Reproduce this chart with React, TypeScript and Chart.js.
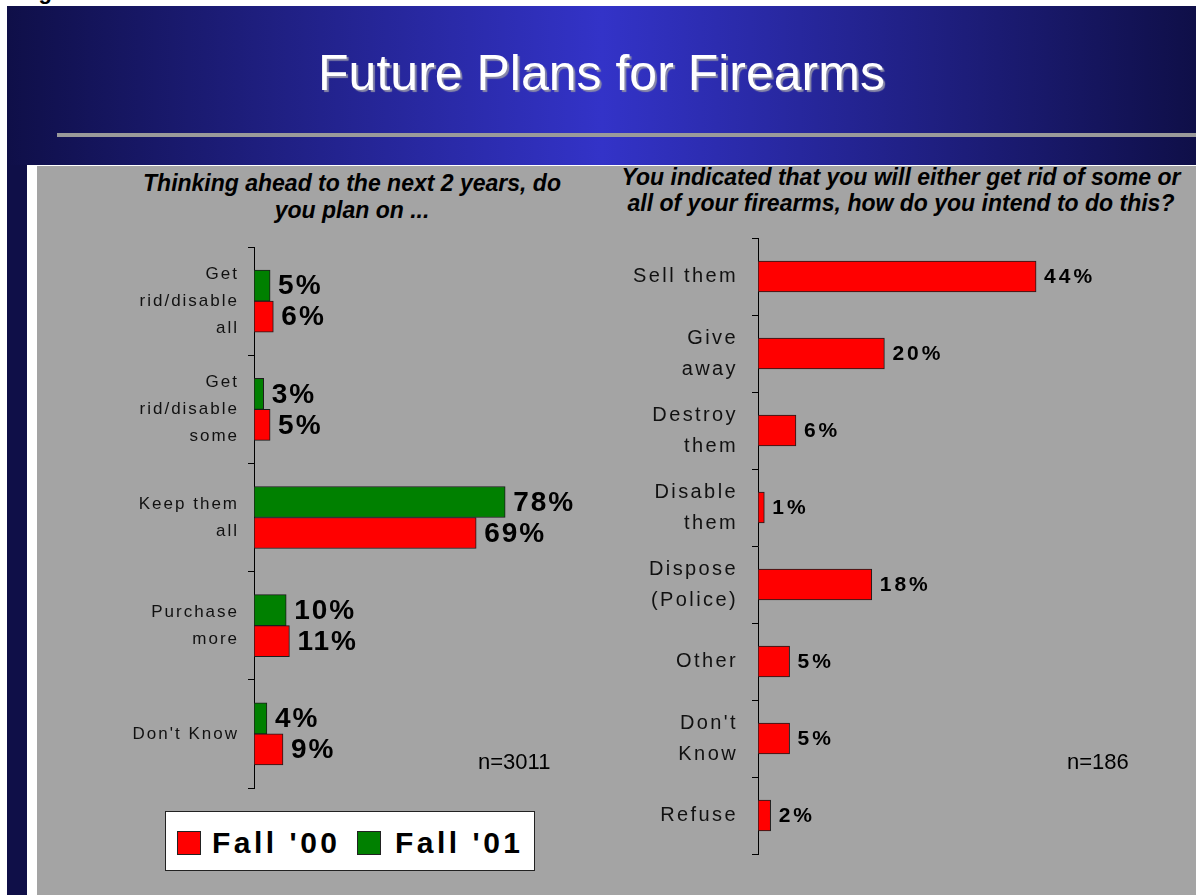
import React, { useEffect, useRef } from 'react';
import { Chart, registerables } from 'chart.js';

Chart.register(...registerables);

// ---------- DATA ----------
const leftCategories: string[][] = [
  ['Get', 'rid/disable', 'all'],
  ['Get', 'rid/disable', 'some'],
  ['Keep them', 'all'],
  ['Purchase', 'more'],
  ["Don't Know"],
];
const fall01Values = [5, 3, 78, 10, 4];
const fall00Values = [6, 5, 69, 11, 9];

const rightCategories: string[][] = [
  ['Sell them'],
  ['Give', 'away'],
  ['Destroy', 'them'],
  ['Disable', 'them'],
  ['Dispose', '(Police)'],
  ['Other'],
  ["Don't", 'Know'],
  ['Refuse'],
];
const rightValues = [44, 20, 6, 1, 18, 5, 5, 2];

const leftAxisMax = 100;
const rightAxisMax = 50;

const FONT = '"Liberation Sans", Arial, Helvetica, sans-serif';
const RED = '#ff0000';
const GREEN = '#008000';
const BAR_BORDER = '#1c1c1c';

// ---------- PLUGINS ----------
const tickSpacingPlugin = (spacing: string) => ({
  id: 'tickSpacing',
  beforeDraw(chart: any) {
    (chart.ctx as any).letterSpacing = spacing;
  },
});

const valueLabelPlugin = (font: string, spacing: string, gap: number, dy: number) => ({
  id: 'valueLabels',
  afterDatasetsDraw(chart: any) {
    const ctx = chart.ctx;
    ctx.save();
    (ctx as any).letterSpacing = spacing;
    ctx.font = font;
    ctx.fillStyle = '#000';
    ctx.textAlign = 'left';
    ctx.textBaseline = 'middle';
    chart.data.datasets.forEach((ds: any, di: number) => {
      const meta = chart.getDatasetMeta(di);
      meta.data.forEach((el: any, i: number) => {
        ctx.fillText(`${ds.data[i]}%`, el.x + gap, el.y + dy);
      });
    });
    ctx.restore();
  },
});

// ---------- CHART CANVAS ----------
function ChartCanvas({ config, left, top, width, height }: any) {
  const ref = useRef<HTMLCanvasElement>(null);
  useEffect(() => {
    if (!ref.current) return;
    const chart = new Chart(ref.current, config);
    return () => chart.destroy();
  }, []);
  return (
    <canvas
      ref={ref}
      width={width}
      height={height}
      style={{ position: 'absolute', left, top, width, height }}
    />
  );
}

const barCommon = {
  borderColor: BAR_BORDER,
  borderWidth: 1,
  borderSkipped: false,
  barThickness: 31,
};

const leftConfig: any = {
  type: 'bar',
  data: {
    labels: leftCategories,
    datasets: [
      { label: "Fall '01", data: fall01Values, backgroundColor: GREEN, ...barCommon },
      { label: "Fall '00", data: fall00Values, backgroundColor: RED, ...barCommon },
    ],
  },
  options: {
    indexAxis: 'y',
    responsive: false,
    animation: false,
    layout: { padding: { left: 0, right: 24, top: 81, bottom: 107 } },
    plugins: { legend: { display: false }, tooltip: { enabled: false } },
    scales: {
      x: { display: false, min: 0, max: leftAxisMax },
      y: {
        afterFit: (s: any) => {
          s.width = 217;
        },
        grid: { display: true, drawOnChartArea: false, drawTicks: true, tickLength: 6, color: '#000', offset: true },
        border: { display: true, color: '#000', width: 1 },
        ticks: {
          color: '#111',
          font: { family: FONT, size: 17, lineHeight: 1.6 },
          padding: 9,
          autoSkip: false,
        },
      },
    },
  },
  plugins: [tickSpacingPlugin('2px'), valueLabelPlugin(`bold 28px ${FONT}`, '2px', 8, 1)],
};

const rightConfig: any = {
  type: 'bar',
  data: {
    labels: rightCategories,
    datasets: [{ label: 'Method', data: rightValues, backgroundColor: RED, ...barCommon }],
  },
  options: {
    indexAxis: 'y',
    responsive: false,
    animation: false,
    layout: { padding: { left: 0, right: 122, top: 72, bottom: 41 } },
    plugins: { legend: { display: false }, tooltip: { enabled: false } },
    scales: {
      x: { display: false, min: 0, max: rightAxisMax },
      y: {
        afterFit: (s: any) => {
          s.width = 158;
        },
        grid: { display: true, drawOnChartArea: false, drawTicks: true, tickLength: 6, color: '#000', offset: true },
        border: { display: true, color: '#000', width: 1 },
        ticks: {
          color: '#111',
          font: { family: FONT, size: 20, lineHeight: 1.55 },
          padding: 14,
          autoSkip: false,
        },
      },
    },
  },
  plugins: [tickSpacingPlugin('2.4px'), valueLabelPlugin(`bold 21px ${FONT}`, '3px', 8, 1)],
};

// ---------- APP ----------
export default function App() {
  const abs = (o: any) => ({ position: 'absolute' as const, ...o });
  return (
    <div
      style={{
        position: 'absolute',
        left: 0,
        top: 0,
        width: 1196,
        height: 895,
        overflow: 'hidden',
        background: '#ffffff',
        fontFamily: FONT,
      }}
    >
      {/* cut-off figure caption */}
      <div style={abs({ left: 19, top: -19, fontSize: 22, fontWeight: 'bold', lineHeight: '22px', color: '#000' })}>
        Figure 3
      </div>
      {/* header */}
      <div
        style={abs({
          left: 7,
          top: 6,
          width: 1189,
          height: 159,
          background: 'linear-gradient(to right, #0f0f48 0%, #3333c8 50%, #0f0f48 100%)',
        })}
      />
      <div
        style={abs({
          left: 7,
          top: 48,
          width: 1189,
          textAlign: 'center',
          color: '#ffffff',
          fontSize: 50,
          lineHeight: '50px',
          textShadow: '2px 2px 1px #8a8aa8',
        })}
      >
        Future Plans for Firearms
      </div>
      <div style={abs({ left: 57, top: 133, width: 1139, height: 4, background: '#9a9a9a' })} />
      {/* left navy strip */}
      <div style={abs({ left: 7, top: 165, width: 20, height: 730, background: '#0f0f48' })} />
      {/* panel */}
      <div style={abs({ left: 27, top: 165, width: 1169, height: 730, background: '#ffffff' })} />
      <div style={abs({ left: 37, top: 166, width: 1159, height: 729, background: '#a4a4a4' })} />

      {/* titles */}
      <div
        style={abs({
          left: 102,
          top: 170,
          width: 500,
          textAlign: 'center',
          fontSize: 23,
          lineHeight: '27px',
          fontWeight: 'bold',
          fontStyle: 'italic',
          color: '#000',
        })}
      >
        Thinking ahead to the next 2 years, do
        <br />
        you plan on ...
      </div>
      <div
        style={abs({
          left: 600,
          top: 164,
          width: 602,
          textAlign: 'center',
          fontSize: 23,
          lineHeight: '26px',
          fontWeight: 'bold',
          fontStyle: 'italic',
          color: '#000',
        })}
      >
        You indicated that you will either get rid of some or
        <br />
        all of your firearms, how do you intend to do this?
      </div>

      <ChartCanvas config={leftConfig} left={37} top={166} width={563} height={729} />
      <ChartCanvas config={rightConfig} left={600} top={166} width={596} height={729} />

      {/* sample sizes */}
      <div style={abs({ left: 478, top: 751, fontSize: 22, lineHeight: '22px', color: '#000' })}>n=3011</div>
      <div style={abs({ left: 1067, top: 751, fontSize: 22, lineHeight: '22px', color: '#000' })}>n=186</div>

      {/* legend */}
      <div
        style={abs({
          left: 165,
          top: 811,
          width: 370,
          height: 60,
          boxSizing: 'border-box',
          background: '#ffffff',
          border: '1px solid #222',
        })}
      >
        <div style={abs({ left: 11, top: 19, width: 24, height: 24, boxSizing: 'border-box', background: RED, border: '1px solid #222' })} />
        <div
          style={abs({ left: 46, top: 16, fontSize: 30, lineHeight: '30px', fontWeight: 'bold', letterSpacing: '3.5px', color: '#000', whiteSpace: 'nowrap' })}
        >
          Fall '00
        </div>
        <div style={abs({ left: 191, top: 19, width: 24, height: 24, boxSizing: 'border-box', background: GREEN, border: '1px solid #222' })} />
        <div
          style={abs({ left: 229, top: 16, fontSize: 30, lineHeight: '30px', fontWeight: 'bold', letterSpacing: '3.5px', color: '#000', whiteSpace: 'nowrap' })}
        >
          Fall '01
        </div>
      </div>
    </div>
  );
}
